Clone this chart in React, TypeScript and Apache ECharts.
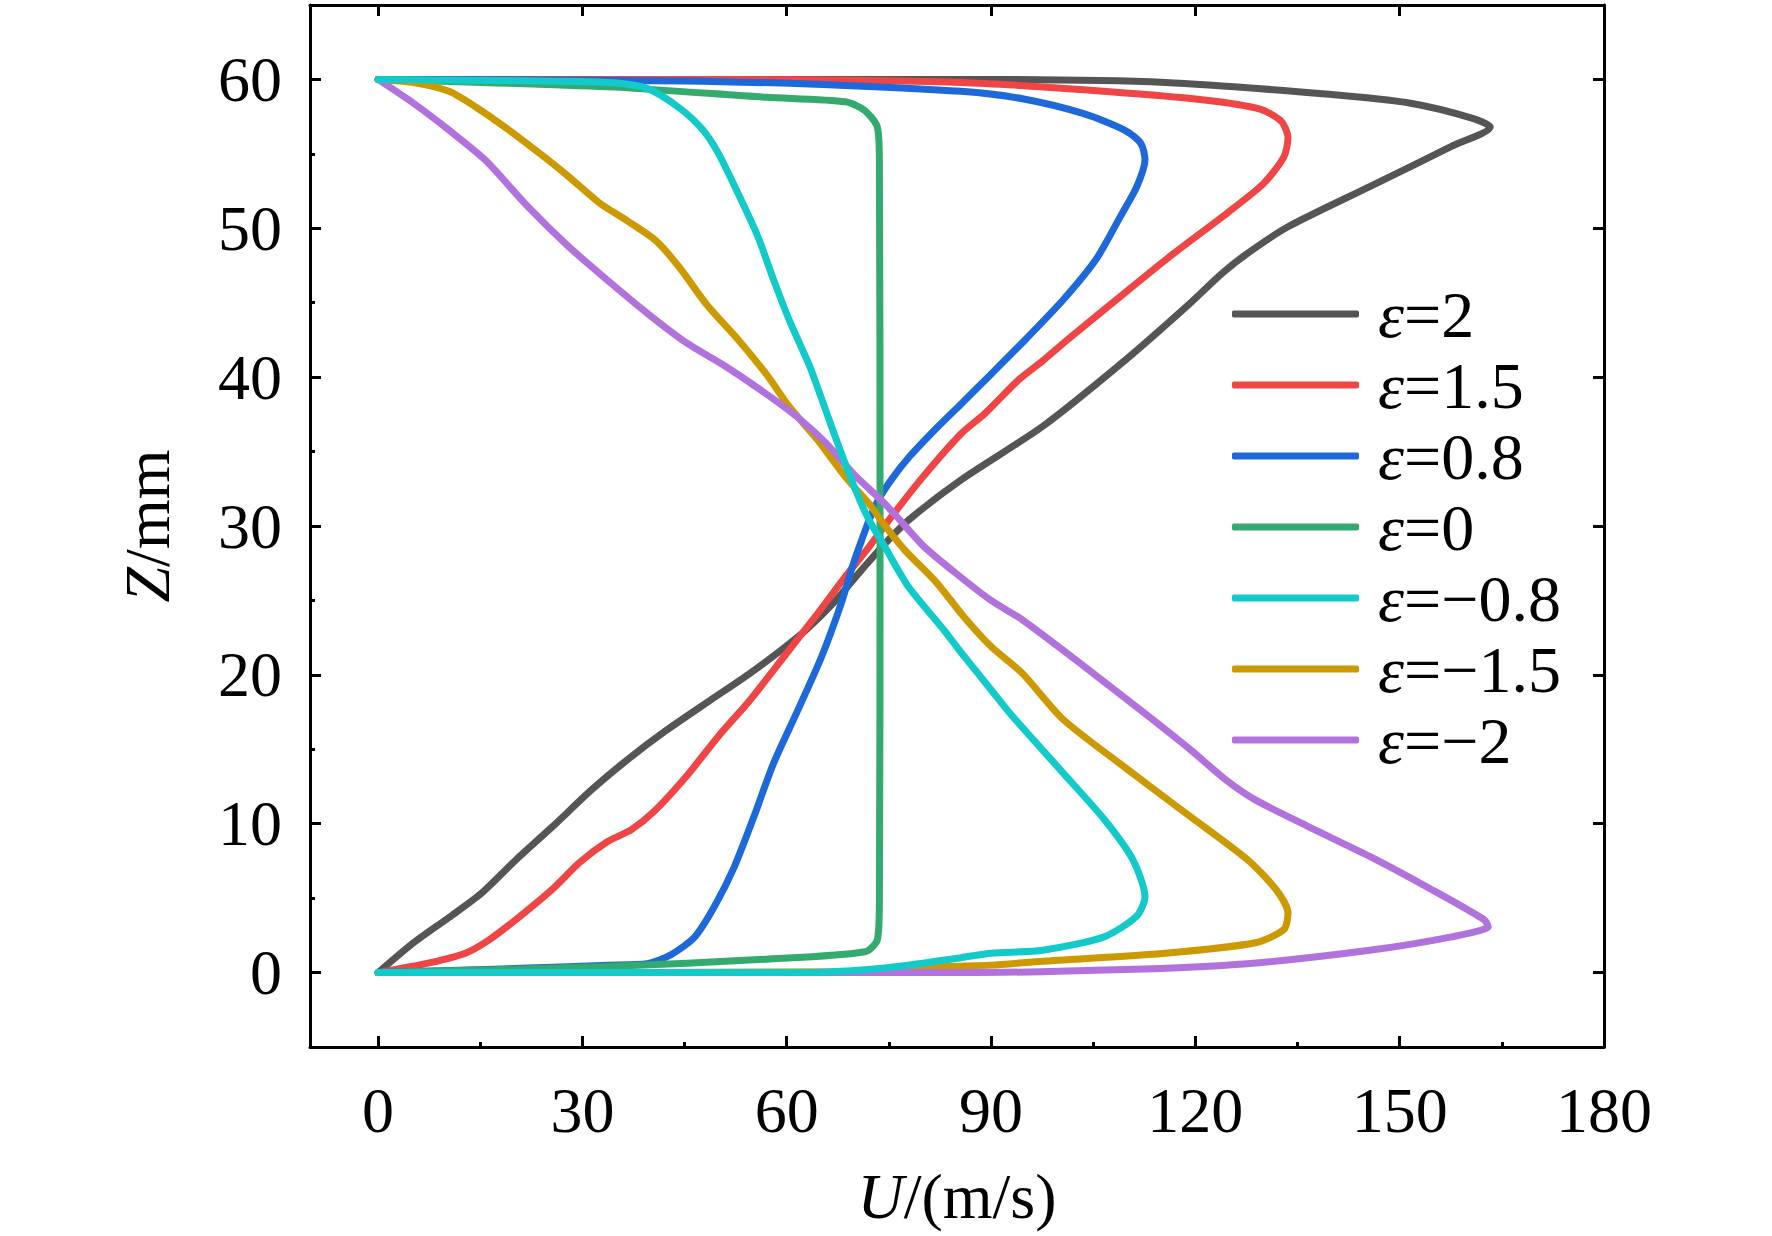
import React, { useEffect, useRef } from 'react';
import * as echarts from 'echarts';

const FONT = 'Liberation Serif';

const legendNames = ['ε=2', 'ε=1.5', 'ε=0.8', 'ε=0', 'ε=−0.8', 'ε=−1.5', 'ε=−2'];
const seriesColors = ['#555555', '#EF4545', '#1D69DA', '#34AA6F', '#12CACA', '#CC9A00', '#B172DD'];

const xTickValues = [0, 30, 60, 90, 120, 150, 180];
const xMinorValues = [15, 45, 75, 105, 135, 165];
const yTickValues = [0, 10, 20, 30, 40, 50, 60];
const yMinorValues = [5, 15, 25, 35, 45, 55];

// [U (m/s), Z (mm)] along each profile from Z=0 to Z=60
const eps2 = [
  [0, 0], [5.2, 2.0], [10.4, 3.7], [15.1, 5.3], [20.3, 7.6], [25.6, 9.8], [31.4, 12.3], [36.6, 14.3],
  [42.4, 16.3], [48.8, 18.3], [54.6, 20.1], [59.3, 21.7], [62.8, 23.0], [66.8, 24.8], [70.9, 27.0],
  [74.4, 28.8], [77.9, 30.4], [85.6, 33.1], [97.6, 36.7], [109.6, 41.1], [118.6, 44.7], [124.0, 47.0],
  [127.6, 48.3], [133.6, 50.1], [145.6, 52.8], [157.6, 55.5], [163.3, 56.8], [160.6, 57.4], [151.6, 58.4],
  [139.6, 59.0], [115.6, 59.8], [85.6, 60.0], [40, 60.0], [0, 60],
];
const eps15 = [
  [0, 0], [7.5, 0.65], [12.8, 1.3], [16.3, 2.2], [20.9, 3.8], [25.6, 5.6], [29.6, 7.4], [33.7, 8.8],
  [37.2, 9.6], [40.7, 10.9], [45.3, 13.2], [50.0, 15.9], [54.6, 18.3], [59.9, 21.4], [64.5, 24.1],
  [68.6, 26.6], [72.1, 28.6], [75.0, 30.4], [80.0, 33.3], [85.6, 36.2], [89.2, 37.6], [94.0, 39.8],
  [97.6, 41.1], [101.2, 42.5], [108.4, 45.2], [116.8, 48.3], [124.6, 51.0], [130.0, 53.0], [133.0, 54.8],
  [133.6, 56.1], [132.6, 57.2], [129.5, 58.0], [121.6, 58.6], [103.6, 59.3], [85.6, 59.8], [50, 60], [0, 60],
];
const eps08 = [
  [0, 0], [22.1, 0.3], [33.7, 0.5], [39.5, 0.6], [43.0, 1.2], [46.5, 2.4], [49.4, 4.45], [52.3, 7.1],
  [55.2, 10.5], [58.1, 14.1], [61.6, 17.6], [65.1, 21.2], [68.0, 24.8], [69.8, 27.5], [71.2, 29.3],
  [72.1, 30.4], [73.5, 31.8], [75.5, 33.2], [77.9, 34.6], [81.4, 36.3], [85.6, 38.2], [90.0, 40.2],
  [95.2, 42.6], [100.6, 45.2], [105.4, 47.9], [109.0, 50.8], [111.4, 52.8], [112.6, 54.6], [112.0, 55.7],
  [109.6, 56.6], [103.6, 57.7], [94.6, 58.7], [85.6, 59.2], [68.6, 59.6], [45, 59.9], [0, 60],
];
const eps0 = [
  [0, 0], [33.7, 0.4], [57, 0.9], [71.5, 1.4], [73.3, 2.2], [73.6, 4.7], [73.7, 30], [73.6, 54.6],
  [73.3, 56.8], [71.5, 57.9], [68.6, 58.5], [57, 58.8], [33.7, 59.5], [0, 60],
];
const epsM08 = [
  [0, 0], [62.8, 0], [74.4, 0.3], [85.6, 1.0], [90, 1.3], [97.6, 1.5], [106.6, 2.4], [111.4, 3.8],
  [112.6, 5.1], [110.8, 7.6], [106.6, 10.3], [100.6, 13.4], [92.8, 17.4], [90, 19.0], [85.6, 21.5],
  [83.1, 23.0], [77.9, 25.9], [74.4, 28.6], [72.1, 30.4], [70.3, 32.2], [68.0, 34.9], [65.7, 37.8],
  [63.4, 40.7], [60.4, 43.8], [58.1, 46.5], [55.8, 49.4], [52.9, 52.3], [50.0, 55.0], [47.7, 56.6],
  [44.2, 58.1], [39.5, 59.4], [33.7, 59.8], [0, 60],
];
const epsM15 = [
  [0, 0], [70, 0.05], [83.1, 0.4], [90, 0.5], [97.6, 0.76], [115.6, 1.3], [128.8, 2.0], [133.0, 2.9],
  [133.6, 4.0], [131.8, 5.6], [127.6, 7.6], [118.6, 10.7], [109.6, 13.8], [100.6, 17.0], [94.6, 20.1],
  [90, 21.9], [86, 23.9], [82, 26.2], [77.3, 28.4], [73.8, 30.4], [72.1, 31.5], [68.6, 33.3], [64.5, 35.8],
  [60.4, 38.0], [57.0, 40.2], [52.9, 42.5], [48.2, 44.9], [44.2, 47.4], [40.7, 49.2], [36.6, 50.5],
  [32.5, 51.7], [27.9, 53.5], [23.8, 55.0], [19.2, 56.6], [14.5, 58.1], [10.4, 59.2], [5, 59.8], [0, 60],
];
const epsM2 = [
  [0, 0], [85.6, 0], [109.6, 0.2], [127.6, 0.6], [145.6, 1.5], [157.6, 2.4], [163.0, 3.1], [162.4, 3.55],
  [154.6, 5.6], [145.6, 7.8], [136.6, 9.8], [128.8, 11.6], [124.6, 12.9], [119.2, 15.0], [112.6, 17.4],
  [103.6, 20.6], [94.6, 23.7], [90, 25.0], [84.9, 26.8], [80.2, 28.6], [77, 30.2], [74.4, 31.5],
  [69.8, 33.5], [65.7, 35.6], [61.6, 37.3], [56.9, 38.9], [51.1, 40.7], [45.3, 42.3], [39.5, 44.3],
  [33.7, 46.5], [27.9, 48.8], [22.1, 51.4], [15.7, 54.6], [10.4, 56.6], [5.2, 58.4], [0, 60],
];

const seriesData = [eps2, eps15, eps08, eps0, epsM08, epsM15, epsM2];
// drawing order (last on top)
const drawOrder = [0, 1, 2, 3, 5, 6, 4];

export default function App() {
  const ref = useRef<HTMLDivElement>(null);

  useEffect(() => {
    if (!ref.current) return;
    const chart = echarts.init(ref.current, undefined, { renderer: 'svg' });

    const axisLineStyle = { color: '#000', width: 3 };
    const baseX = { type: 'value', min: -10, max: 180, gridIndex: 0, splitLine: { show: false } };
    const baseY = { type: 'value', min: -5, max: 65, gridIndex: 0, splitLine: { show: false } };

    const option: any = {
      animation: false,
      backgroundColor: '#fff',
      grid: { left: 310, right: 168, top: 5, bottom: 189, containLabel: false },
      legend: {
        orient: 'vertical',
        left: 1232,
        top: 281,
        padding: 0,
        itemWidth: 127,
        itemHeight: 7,
        itemGap: 5,
        icon: 'roundRect',
        data: legendNames,
        selectedMode: false,
        formatter: (name: string) => `{i|ε}{n|${name.slice(1)}}`,
        textStyle: {
          fontFamily: FONT,
          fontSize: 66,
          color: '#000',
          lineHeight: 66,
          rich: {
            i: { fontFamily: FONT, fontSize: 66, fontStyle: 'italic', color: '#000', lineHeight: 66, padding: [0, 0, 0, 14] },
            n: { fontFamily: FONT, fontSize: 66, color: '#000', lineHeight: 66 },
          },
        },
      },
      xAxis: [
        {
          ...baseX,
          position: 'bottom',
          axisLine: { show: true, onZero: false, lineStyle: axisLineStyle },
          axisTick: { show: true, inside: true, length: 11, lineStyle: { color: '#000', width: 3 }, customValues: xTickValues },
          axisLabel: { show: true, customValues: xTickValues, fontFamily: FONT, fontSize: 64, color: '#000', margin: 31 },
          name: '{i|U}{n|/(m/s)}',
          nameLocation: 'middle',
          nameGap: 117,
          nameTextStyle: {
            fontFamily: FONT,
            fontSize: 64,
            color: '#000',
            rich: {
              i: { fontFamily: FONT, fontSize: 64, fontStyle: 'italic', color: '#000', lineHeight: 64 },
              n: { fontFamily: FONT, fontSize: 64, color: '#000', lineHeight: 64 },
            },
          },
        },
        {
          ...baseX,
          position: 'bottom',
          axisLine: { show: false, onZero: false },
          axisTick: { show: true, inside: true, length: 5, lineStyle: { color: '#000', width: 3 }, customValues: xMinorValues },
          axisLabel: { show: false },
        },
        {
          ...baseX,
          position: 'top',
          axisLine: { show: true, onZero: false, lineStyle: axisLineStyle },
          axisTick: { show: true, inside: true, length: 11, lineStyle: { color: '#000', width: 3 }, customValues: xTickValues },
          axisLabel: { show: false },
        },
      ],
      yAxis: [
        {
          ...baseY,
          position: 'left',
          axisLine: { show: true, onZero: false, lineStyle: axisLineStyle },
          axisTick: { show: true, inside: true, length: 11, lineStyle: { color: '#000', width: 3 }, customValues: yTickValues },
          axisLabel: { show: true, customValues: yTickValues, fontFamily: FONT, fontSize: 64, color: '#000', margin: 28 },
          name: '{i|Z}{n|/mm}',
          nameLocation: 'middle',
          nameGap: 131,
          nameTextStyle: {
            fontFamily: FONT,
            fontSize: 64,
            color: '#000',
            rich: {
              i: { fontFamily: FONT, fontSize: 64, fontStyle: 'italic', color: '#000', lineHeight: 64 },
              n: { fontFamily: FONT, fontSize: 64, color: '#000', lineHeight: 64 },
            },
          },
        },
        {
          ...baseY,
          position: 'left',
          axisLine: { show: false, onZero: false },
          axisTick: { show: true, inside: true, length: 5, lineStyle: { color: '#000', width: 3 }, customValues: yMinorValues },
          axisLabel: { show: false },
        },
        {
          ...baseY,
          position: 'right',
          axisLine: { show: true, onZero: false, lineStyle: axisLineStyle },
          axisTick: { show: true, inside: true, length: 11, lineStyle: { color: '#000', width: 3 }, customValues: yTickValues },
          axisLabel: { show: false },
        },
      ],
      series: drawOrder.map((i) => ({
        name: legendNames[i],
        type: 'line',
        xAxisIndex: 0,
        yAxisIndex: 0,
        data: seriesData[i],
        showSymbol: false,
        symbol: 'none',
        smooth: 0.25,
        color: seriesColors[i],
        lineStyle: { color: seriesColors[i], width: 7, cap: 'round', join: 'round' },
        itemStyle: { color: seriesColors[i] },
        emphasis: { disabled: true },
        z: 2 + drawOrder.indexOf(i),
      })),
    };

    chart.setOption(option);
    return () => chart.dispose();
  }, []);

  return (
    <div
      ref={ref}
      style={{ position: 'absolute', left: 0, top: 0, width: 1772, height: 1236, background: '#fff' }}
    />
  );
}
